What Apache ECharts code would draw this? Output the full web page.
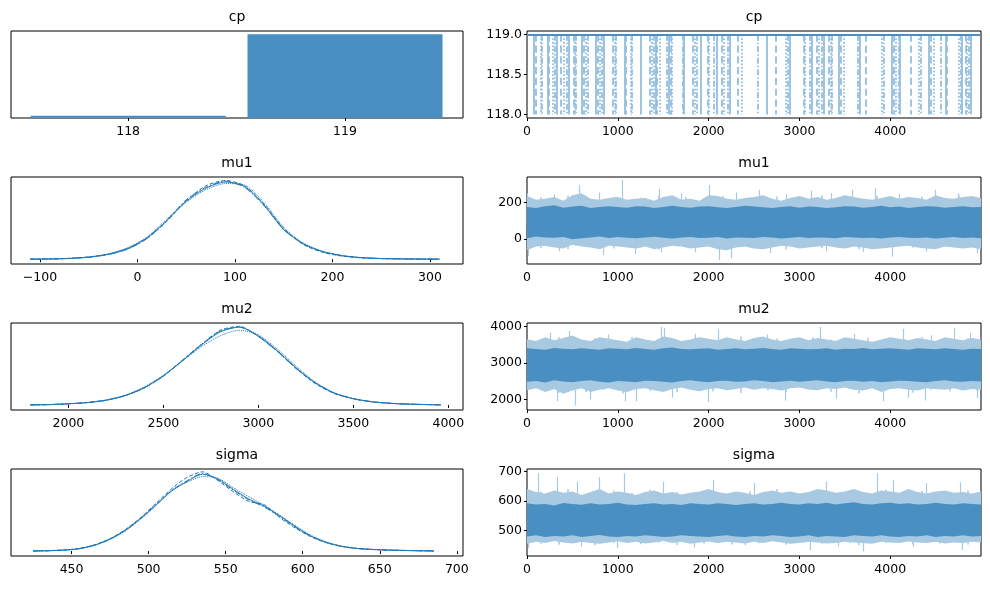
<!DOCTYPE html>
<html>
<head>
<meta charset="utf-8">
<title>trace</title>
<script src="https://cdn.jsdelivr.net/npm/echarts@6/dist/echarts.min.js"></script>
</head>
<style>
html,body{margin:0;padding:0;background:#fff;}
#container{width:990px;height:590px;}
</style>
<body>
<div id="container"></div>
<script>
    // ---- cp ----
    var cpValues = [118, 119];
    var cpFreq = [0.027, 0.973];
    // draws where a chain drops from 119 to 118
    var cpDips = [74,92,147,165,228,239,283,301,331,375,404,441,460,515,529,540,607,625,643,669,
        761,779,798,823,842,945,963,982,1073,1092,1140,1154,1250,1349,1379,1397,1415,1434,1459,
        1544,1559,1581,1592,1717,1728,1820,1845,1864,1911,1992,2003,2059,2084,2147,2169,2213,2231,
        2323,2360,2540,2640,2739,2853,2871,2890,3044,3062,3118,3136,3191,3210,3246,3265,3327,3346,
        3357,3437,3460,3485,3643,3662,3735,3908,3926,4018,4037,4055,4092,4099,4220,4312,4331,4423,
        4441,4478,4551,4606,4625,4754,4772,4791,4827,4846,4864,4883];

    // ---- kde curves (relative height), one array per chain ----
    var mu1X = [-110,-90,-70,-50,-30,-10,10,30,50,70,90,110,130,150,170,190,210,230,250,270,290,310];
    var mu1Kde1 = [.001,.003,.010,.027,.065,.140,.280,.500,.750,.920,1.00,.940,.700,.380,.200,.100,.045,.020,.009,.004,.002,.001];
    var mu1Kde2 = [.001,.002,.011,.030,.062,.135,.270,.490,.760,.950,1.02,.950,.710,.400,.190,.090,.040,.018,.008,.004,.002,.001];
    var mu1Kde3 = [.001,.004,.012,.028,.070,.150,.290,.520,.740,.900,.980,.960,.730,.410,.210,.100,.050,.020,.009,.005,.002,.001];
    var mu1Kde4 = [.001,.003,.009,.025,.060,.130,.270,.500,.770,.930,1.01,.930,.690,.390,.200,.095,.045,.019,.008,.004,.002,.001];

    var mu2X = [1800,1900,2000,2100,2200,2300,2400,2500,2600,2700,2800,2900,3000,3100,3200,3300,3400,3500,3600,3700,3800,3900,3960];
    var mu2Kde1 = [.001,.005,.015,.030,.060,.120,.220,.370,.560,.760,.930,.990,.880,.690,.470,.280,.150,.080,.040,.020,.010,.004,.001];
    var mu2Kde2 = [.001,.004,.014,.032,.062,.118,.215,.365,.565,.770,.950,1.00,.870,.680,.460,.270,.145,.078,.040,.020,.010,.004,.001];
    var mu2Kde3 = [.001,.006,.017,.030,.065,.125,.230,.380,.560,.740,.880,.950,.890,.710,.490,.290,.155,.080,.042,.021,.010,.005,.001];
    var mu2Kde4 = [.001,.005,.015,.030,.060,.120,.220,.370,.570,.770,.940,.990,.870,.680,.460,.280,.150,.080,.040,.020,.010,.004,.001];

    var sigmaX = [425,435,445,455,465,475,485,495,505,515,525,535,545,555,565,575,585,595,605,615,625,635,645,655,665,675,685];
    var sigmaKde1 = [.001,.004,.012,.030,.075,.150,.260,.410,.580,.750,.870,.960,.900,.770,.650,.560,.440,.310,.190,.110,.060,.033,.020,.012,.008,.004,.001];
    var sigmaKde2 = [.001,.005,.013,.032,.078,.155,.270,.420,.600,.780,.920,.990,.880,.740,.620,.580,.420,.290,.180,.105,.058,.032,.020,.012,.008,.004,.001];
    var sigmaKde3 = [.001,.004,.011,.028,.070,.145,.250,.400,.570,.760,.860,.930,.910,.790,.680,.570,.450,.320,.200,.115,.062,.034,.021,.012,.007,.004,.001];
    var sigmaKde4 = [.001,.004,.012,.030,.074,.150,.262,.410,.585,.755,.880,.970,.890,.760,.640,.550,.430,.300,.190,.110,.060,.033,.020,.012,.008,.004,.001];

    // ---- trace envelopes, read every 100 draws ----
    var traceDraws = [0,100,200,300,400,500,600,700,800,900,1000,1100,1200,1300,1400,1500,1600,1700,1800,1900,
        2000,2100,2200,2300,2400,2500,2600,2700,2800,2900,3000,3100,3200,3300,3400,3500,3600,3700,3800,3900,
        4000,4100,4200,4300,4400,4500,4600,4700,4800,4900,4999];
    // streaks in between
    var streakDraws = [50,150,250,350,450,550,650,750,850,950,1050,1150,1250,1350,1450,1550,1650,1750,1850,1950,
        2050,2150,2250,2350,2450,2550,2650,2750,2850,2950,3050,3150,3250,3350,3450,3550,3650,3750,3850,3950,
        4050,4150,4250,4350,4450,4550,4650,4750,4850,4950];

    var mu1OuterHi = [235,215,220,230,210,240,250,220,215,225,230,215,220,225,210,230,240,215,220,210,240,235,220,215,225,230,240,220,210,225,235,220,230,215,225,240,230,220,215,225,235,220,230,225,215,240,225,220,230,235,225];
    var mu1OuterLo = [-60,-40,-35,-45,-50,-30,-40,-45,-55,-35,-40,-45,-50,-40,-55,-45,-35,-40,-50,-45,-40,-55,-60,-45,-40,-50,-55,-45,-35,-40,-50,-45,-40,-35,-45,-50,-40,-45,-55,-50,-45,-40,-35,-45,-50,-55,-40,-45,-50,-45,-55];
    var mu1InnerHi = [175,170,180,185,172,178,182,170,175,180,176,172,180,178,170,175,182,176,172,178,180,174,170,176,182,178,174,170,176,180,172,178,176,170,174,180,178,172,176,182,174,178,170,176,180,178,172,176,180,174,176];
    var mu1InnerLo = [5,15,10,8,12,0,5,10,15,6,12,8,5,10,14,8,4,10,12,6,8,12,4,10,8,6,12,10,4,8,12,6,10,8,5,12,10,6,8,4,10,12,8,6,10,4,8,12,6,10,5];
    var mu1StreakHi = [205,228,196,215,238,200,222,210,195,232,218,204,226,199,240,212,207,230,198,221,214,236,202,219,209,227,197,233,211,224,203,216,239,206,229,200,220,213,235,198,225,208,217,231,201,223,210,237,205,219];
    var mu1StreakLo = [-20,-48,-10,-35,-55,-15,-42,-28,-8,-50,-30,-18,-45,-12,-58,-25,-38,-5,-47,-22,-33,-52,-14,-40,-27,-9,-44,-31,-56,-17,-36,-24,-49,-11,-39,-29,-53,-16,-43,-21,-34,-7,-46,-26,-51,-13,-37,-23,-41,-19];
    var mu1Center = 88;
    var mu1Spikes = [[0,251],[571,296],[1050,324],[1456,273],[2009,296],[2562,269],[3134,265],[3576,269],[3834,278],[4498,269],
        [300,245],[800,255],[1700,250],[2300,255],[2850,245],[3350,250],[4100,248],[4750,250],
        [10,-91],[837,-85],[1191,-80],[1475,-73],[2120,-113],[2249,-104],[2673,-76],[4018,-95],[4958,-76],
        [350,-65],[1850,-70],[3300,-65],[3700,-70],[4400,-68]];

    var mu2OuterHi = [3650,3600,3700,3620,3680,3750,3640,3600,3700,3660,3620,3580,3700,3640,3600,3720,3680,3600,3640,3700,3660,3620,3700,3640,3600,3680,3720,3640,3600,3660,3700,3620,3680,3640,3600,3700,3660,3620,3580,3640,3700,3660,3620,3680,3640,3600,3700,3660,3620,3680,3640];
    var mu2OuterLo = [2250,2300,2200,2280,2150,2240,2300,2200,2260,2300,2240,2200,2280,2300,2250,2200,2280,2320,2260,2220,2280,2300,2250,2280,2320,2260,2300,2280,2240,2300,2320,2270,2250,2300,2280,2320,2260,2240,2300,2200,2280,2300,2260,2240,2300,2280,2260,2300,2240,2280,2260];
    var mu2InnerHi = [3400,3380,3360,3410,3390,3370,3400,3380,3360,3400,3390,3370,3410,3380,3360,3400,3420,3380,3370,3390,3400,3360,3380,3400,3370,3390,3410,3380,3360,3400,3390,3370,3380,3400,3360,3390,3380,3410,3370,3390,3400,3380,3360,3400,3390,3370,3400,3380,3360,3390,3380];
    var mu2InnerLo = [2480,2500,2460,2520,2490,2470,2500,2520,2480,2460,2500,2490,2470,2510,2500,2480,2460,2500,2520,2490,2470,2500,2510,2480,2490,2520,2500,2470,2490,2510,2480,2500,2520,2490,2470,2500,2510,2480,2500,2470,2490,2510,2500,2480,2470,2500,2520,2490,2480,2500,2490];
    var mu2StreakHi = [3480,3650,3520,3700,3450,3600,3560,3680,3500,3620,3440,3710,3540,3590,3660,3470,3630,3510,3690,3550,3460,3640,3580,3720,3490,3610,3530,3670,3450,3600,3570,3700,3510,3640,3480,3620,3550,3690,3460,3600,3530,3660,3500,3710,3570,3480,3630,3540,3680,3520];
    var mu2StreakLo = [2400,2250,2350,2180,2300,2420,2200,2330,2260,2380,2160,2310,2410,2230,2290,2370,2190,2340,2270,2430,2210,2320,2380,2170,2280,2400,2240,2350,2190,2310,2420,2260,2340,2200,2390,2280,2160,2330,2410,2250,2300,2370,2180,2350,2270,2420,2220,2310,2380,2240];
    var mu2Center = 2870;
    var mu2Spikes = [[251,3825],[461,3872],[1475,3990],[1510,3963],[2101,3917],[3233,3982],[4147,3935],[4700,3963],[4885,3825],
        [900,3780],[1850,3800],[2650,3780],[3600,3790],[4450,3760],
        [332,1945],[534,1826],[1087,1945],[1198,1945],[1991,1927],[2839,1963],[3926,1945],[4387,1963],[4958,2037],
        [700,2000],[1600,2050],[3400,2020],[4200,2040]];

    var sigmaOuterHi = [640,630,625,635,628,632,620,630,640,625,632,628,620,630,635,625,630,622,628,632,640,630,625,632,628,620,630,635,628,632,625,630,640,635,628,632,640,630,625,635,632,628,640,630,625,632,635,628,630,625,632];
    var sigmaOuterLo = [455,462,458,465,460,456,462,458,455,460,464,458,462,456,460,465,458,462,455,460,463,458,462,460,456,462,458,464,460,455,458,462,460,456,458,462,460,458,455,462,460,458,463,460,458,462,456,460,458,462,460];
    var sigmaInnerHi = [592,588,590,585,593,590,587,592,588,590,594,588,586,590,592,588,590,586,592,590,588,592,590,586,590,592,588,590,594,590,588,592,590,594,588,592,596,590,588,592,594,590,592,588,590,594,590,588,592,590,588];
    var sigmaInnerLo = [480,484,478,482,480,484,478,482,485,480,478,482,480,484,482,478,480,484,482,480,478,482,484,480,478,482,480,484,482,478,480,484,478,482,480,478,484,482,480,484,480,478,482,480,484,478,482,480,484,480,482];
    var sigmaStreakHi = [610,632,600,625,640,605,620,615,598,635,612,628,603,638,618,607,630,600,622,613,636,604,626,610,633,599,619,640,608,624,614,602,637,616,627,601,631,609,621,639,606,623,611,634,600,617,629,605,636,612];
    var sigmaStreakLo = [470,455,465,452,474,460,468,450,476,458,463,471,454,467,459,475,451,462,469,456,472,461,453,466,477,457,464,470,452,468,460,474,455,463,471,458,450,466,473,459,462,469,454,476,461,456,467,472,453,465];
    var sigmaCenter = 535;
    var sigmaSpikes = [[129,694],[332,681],[793,681],[1069,694],[2046,672],[3852,694],[4037,672],[4774,663],
        [550,665],[1500,665],[2500,660],[3300,665],[4400,660],
        [18,440],[995,440],[1843,443],[3115,434],[3429,446],[3705,429],[4793,434],
        [600,445],[2400,450],[4250,445]];

    // ---- ticks ----
    var traceTicks = [0, 1000, 2000, 3000, 4000];
    var cpTraceTicks = [118, 118.5, 119];
    var mu1Ticks = [-100, 0, 100, 200, 300];
    var mu1TraceTicks = [0, 200];
    var mu2Ticks = [2000, 2500, 3000, 3500, 4000];
    var mu2TraceTicks = [2000, 3000, 4000];
    var sigmaTicks = [450, 500, 550, 600, 650, 700];
    var sigmaTraceTicks = [500, 600, 700];

    var C0 = '#1f77b4';
    var DARK = '#4a8fc2';
    var LIGHT = '#a7c9e2';
    var FONT = 'DejaVu Sans';

    var tops = [31, 177, 323, 469];
    var grids = [];
    tops.forEach(function (t) {
        grids.push({left: 11, top: t, width: 452, height: 87, show: true, borderColor: '#000', borderWidth: 1, backgroundColor: 'transparent'});
        grids.push({left: 527, top: t, width: 454, height: 87, show: true, borderColor: '#000', borderWidth: 1, backgroundColor: 'transparent'});
    });

    function minus(v) { return String(v).replace('-', '\u2212'); }

    function axis(gi, min, max, ticks, fmt) {
        var a = {
            type: 'value', gridIndex: gi, min: min, max: max, scale: true,
            splitLine: {show: false},
            axisLine: {show: false},
            axisTick: {show: !!ticks, length: 3, lineStyle: {color: '#000', width: 1}},
            axisLabel: {show: !!ticks, color: '#000', fontSize: 12.5, fontFamily: FONT, margin: 7,
                formatter: fmt || function (v) { return minus(v); }}
        };
        if (ticks) {
            a.axisTick.customValues = ticks;
            a.axisLabel.customValues = ticks;
        }
        return a;
    }

    var xAxes = [
        axis(0, 117.46, 119.544, cpValues),
        axis(1, 0, 4999, traceTicks),
        axis(2, -129.7, 333.8, mu1Ticks),
        axis(3, 0, 4999, traceTicks),
        axis(4, 1698, 4077, mu2Ticks),
        axis(5, 0, 4999, traceTicks),
        axis(6, 410.7, 704, sigmaTicks),
        axis(7, 0, 4999, traceTicks)
    ];
    var yAxes = [
        axis(0, 0, 1.011, null),
        axis(1, 117.955, 119.046, cpTraceTicks, function (v) { return v.toFixed(1); }),
        axis(2, -0.062, 1.065, null),
        axis(3, -135, 339, mu1TraceTicks),
        axis(4, -0.064, 1.042, null),
        axis(5, 1705, 4094, mu2TraceTicks),
        axis(6, -0.062, 1.025, null),
        axis(7, 414, 708, sigmaTraceTicks)
    ];
    yAxes.forEach(function (a) { a.axisLabel.margin = 5; });

    var dashes = ['solid', 'dashed', 'dotted', [6, 2, 1.5, 2]];

    function kde(gi, xs, ys, k) {
        return {
            type: 'line', xAxisIndex: gi, yAxisIndex: gi, showSymbol: false, smooth: 0.25, silent: true,
            data: xs.map(function (x, i) { return [x, ys[i]]; }),
            lineStyle: {color: C0, width: 1, type: dashes[k]}
        };
    }

    function band(gi, hi, lo, color) {
        return {
            type: 'custom', xAxisIndex: gi, yAxisIndex: gi, silent: true, clip: true,
            data: [[traceDraws[0], hi[0]]],
            renderItem: function (params, api) {
                var pts = [];
                for (var i = 0; i < traceDraws.length; i++) pts.push(api.coord([traceDraws[i], hi[i]]));
                for (var j = traceDraws.length - 1; j >= 0; j--) pts.push(api.coord([traceDraws[j], lo[j]]));
                return {type: 'polygon', shape: {points: pts}, style: {fill: color}};
            }
        };
    }

    function spikes(gi, list, center) {
        return {
            type: 'lines', coordinateSystem: 'cartesian2d', xAxisIndex: gi, yAxisIndex: gi, silent: true,
            data: list.map(function (s) { return {coords: [[s[0], center], [s[0], s[1]]]}; }),
            lineStyle: {color: LIGHT, width: 1.2, opacity: 1}
        };
    }

    function streaks(gi, hi, lo, center) {
        var list = [];
        streakDraws.forEach(function (d, i) {
            list.push({coords: [[d, center], [d, hi[i]]]});
            list.push({coords: [[d, center], [d, lo[i]]]});
        });
        return {
            type: 'lines', coordinateSystem: 'cartesian2d', xAxisIndex: gi, yAxisIndex: gi, silent: true,
            data: list,
            lineStyle: {color: LIGHT, width: 1.5, opacity: 1}
        };
    }

    var series = [];
    // cp histogram
    series.push({
        type: 'bar', xAxisIndex: 0, yAxisIndex: 0, barWidth: 195, silent: true,
        data: cpValues.map(function (v, i) { return [v, cpFreq[i]]; }),
        itemStyle: {color: DARK}
    });
    // cp trace
    for (var k = 0; k < 4; k++) {
        series.push({
            type: 'lines', coordinateSystem: 'cartesian2d', xAxisIndex: 1, yAxisIndex: 1, silent: true,
            data: cpDips.filter(function (d, i) { return i % 4 === k; })
                .map(function (d) { return {coords: [[d, cpValues[1]], [d, cpValues[0]]]}; }),
            lineStyle: {color: '#95bede', width: 1.8, opacity: 1, type: dashes[k]}
        });
    }
    series.push({
        type: 'lines', coordinateSystem: 'cartesian2d', xAxisIndex: 1, yAxisIndex: 1, silent: true,
        data: [{coords: [[traceDraws[0], cpValues[1]], [traceDraws[traceDraws.length - 1], cpValues[1]]]}],
        lineStyle: {color: DARK, width: 1.8, opacity: 1}
    });

    [mu1Kde1, mu1Kde2, mu1Kde3, mu1Kde4].forEach(function (ys, k) { series.push(kde(2, mu1X, ys, k)); });
    [mu2Kde1, mu2Kde2, mu2Kde3, mu2Kde4].forEach(function (ys, k) { series.push(kde(4, mu2X, ys, k)); });
    [sigmaKde1, sigmaKde2, sigmaKde3, sigmaKde4].forEach(function (ys, k) { series.push(kde(6, sigmaX, ys, k)); });

    series.push(band(3, mu1OuterHi, mu1OuterLo, LIGHT), spikes(3, mu1Spikes, mu1Center),
        streaks(3, mu1StreakHi, mu1StreakLo, mu1Center), band(3, mu1InnerHi, mu1InnerLo, DARK));
    series.push(band(5, mu2OuterHi, mu2OuterLo, LIGHT), spikes(5, mu2Spikes, mu2Center),
        streaks(5, mu2StreakHi, mu2StreakLo, mu2Center), band(5, mu2InnerHi, mu2InnerLo, DARK));
    series.push(band(7, sigmaOuterHi, sigmaOuterLo, LIGHT), spikes(7, sigmaSpikes, sigmaCenter),
        streaks(7, sigmaStreakHi, sigmaStreakLo, sigmaCenter), band(7, sigmaInnerHi, sigmaInnerLo, DARK));

    var titles = ['cp', 'mu1', 'mu2', 'sigma'];
    var graphic = [];
    titles.forEach(function (t, r) {
        [237, 754].forEach(function (cx) {
            graphic.push({type: 'text', x: cx, y: tops[r] - 14, silent: true,
                style: {text: t, fill: '#000', fontSize: 14, fontFamily: FONT,
                    align: 'center', verticalAlign: 'middle', textAlign: 'center', textVerticalAlign: 'middle'}});
        });
    });

    var option = {
        animation: false,
        backgroundColor: '#fff',
        grid: grids,
        xAxis: xAxes,
        yAxis: yAxes,
        series: series,
        graphic: graphic
    };
    var myChart = echarts.init(document.getElementById('container'));
    myChart.setOption(option, true);
</script>
</body>
</html>
